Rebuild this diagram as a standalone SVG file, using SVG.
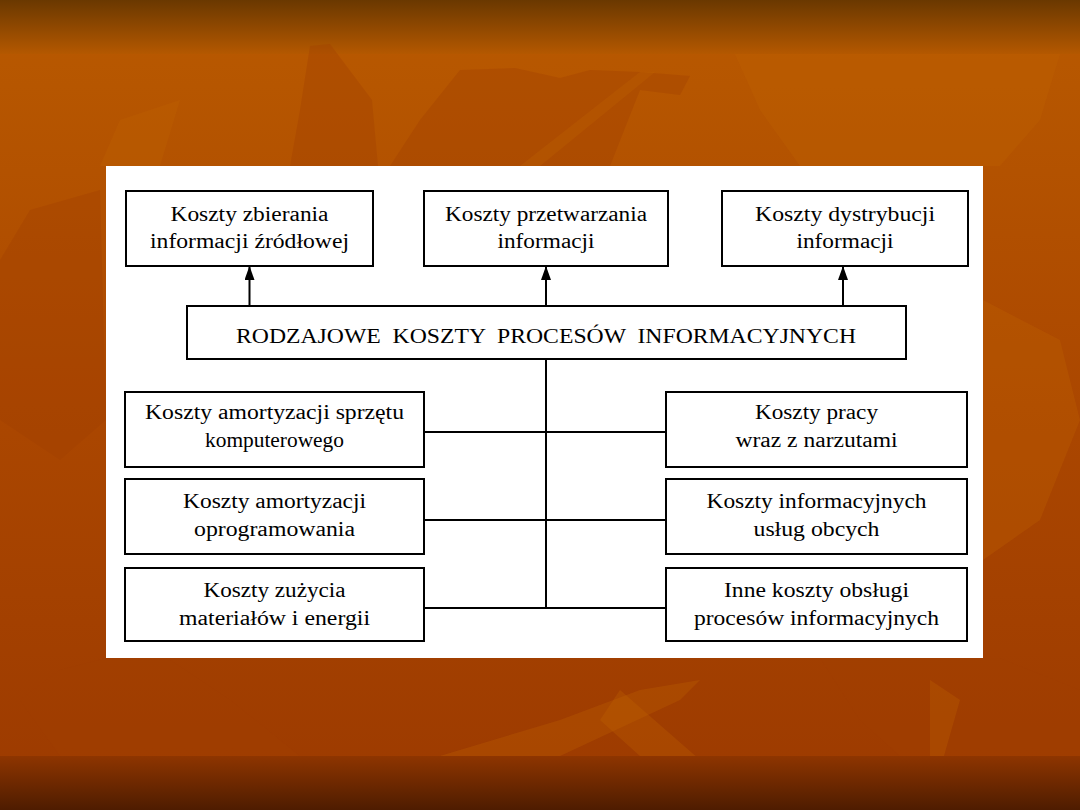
<svg xmlns="http://www.w3.org/2000/svg" width="1080" height="810" viewBox="0 0 1080 810">
<defs>
<linearGradient id="topband" x1="0" y1="0" x2="0" y2="1">
<stop offset="0" stop-color="#6a3800"/>
<stop offset="1" stop-color="#b45800"/>
</linearGradient>
<linearGradient id="mid" x1="0" y1="0" x2="0" y2="1">
<stop offset="0" stop-color="#b95a00"/>
<stop offset="0.5" stop-color="#ab4700"/>
<stop offset="1" stop-color="#9c3a00"/>
</linearGradient>
<linearGradient id="botband" x1="0" y1="0" x2="0" y2="1">
<stop offset="0" stop-color="#8e3500"/>
<stop offset="1" stop-color="#4e1c00"/>
</linearGradient>
<marker id="arr" viewBox="0 0 14 10" refX="13" refY="5" markerWidth="14" markerHeight="10" markerUnits="userSpaceOnUse" orient="auto">
<path d="M0,0 L14,5 L0,10 Z" fill="#000"/>
</marker>
<style>
.box{fill:#fff;stroke:#000;stroke-width:2}
.t{font-family:"Liberation Serif","Times New Roman",serif;font-size:20px;fill:#000;text-anchor:middle}
.c{stroke:#000;stroke-width:2;fill:none}
.leafA{fill:#c06400;opacity:0.3}
.leafB{fill:#a04000;opacity:0.35}
</style>
</defs>

<g id="background">
<rect x="0" y="0" width="1080" height="810" fill="url(#mid)"/>
<rect x="0" y="0" width="1080" height="54" fill="url(#topband)"/>
<polygon class="leafB" points="310,46 330,44 372,100 378,166 290,166 300,110" />
<polygon class="leafB" points="460,70 515,68 560,78 590,70 640,72 690,76 680,95 640,90 610,166 390,166 420,120" />
<polygon class="leafA" points="640,72 655,72 540,166 520,166" />
<polygon class="leafA" points="735,54 1060,54 1040,120 1000,166 800,166 760,110" />
<polygon class="leafA" points="120,120 180,100 160,166 100,166" />
<polygon class="leafB" points="30,210 100,190 106,420 60,460 0,420 0,260" />
<polygon class="leafA" points="983,300 1060,340 1080,420 1040,520 983,560" />
<polygon class="leafB" points="20,700 60,670 106,658 170,660 230,700 300,756 60,756" />
<polygon class="leafA" points="440,756 560,720 640,690 700,680 680,700 560,756" />
<polygon class="leafA" points="620,690 700,760 640,756 600,720" />
<polygon class="leafB" points="820,658 1000,658 1080,690 1080,756 900,756 860,720" />
<polygon class="leafA" points="930,680 960,700 940,770 930,756" />
<rect x="0" y="756" width="1080" height="54" fill="url(#botband)"/>
<rect x="106" y="166" width="877" height="492" fill="#fff"/>
</g>

<g id="connectors">
<line class="c" x1="249.5" y1="306" x2="249.5" y2="267" marker-end="url(#arr)"/>
<line class="c" x1="546" y1="306" x2="546" y2="267" marker-end="url(#arr)"/>
<line class="c" x1="843" y1="306" x2="843" y2="267" marker-end="url(#arr)"/>
<line class="c" x1="546" y1="359" x2="546" y2="609"/>
<line class="c" x1="424" y1="432" x2="666" y2="432"/>
<line class="c" x1="424" y1="520" x2="666" y2="520"/>
<line class="c" x1="424" y1="608" x2="666" y2="608"/>
</g>

<g id="n-zbierania">
<rect class="box" x="126" y="191" width="247" height="75"/>
<text class="t" x="249.5" y="221" textLength="158" lengthAdjust="spacingAndGlyphs">Koszty zbierania</text>
<text class="t" x="249.5" y="248" textLength="199" lengthAdjust="spacingAndGlyphs">informacji źródłowej</text>
</g>
<g id="n-przetwarzania">
<rect class="box" x="424" y="191" width="244" height="75"/>
<text class="t" x="546" y="221" textLength="202" lengthAdjust="spacingAndGlyphs">Koszty przetwarzania</text>
<text class="t" x="546" y="248" textLength="97" lengthAdjust="spacingAndGlyphs">informacji</text>
</g>
<g id="n-dystrybucji">
<rect class="box" x="722" y="191" width="246" height="75"/>
<text class="t" x="845" y="221" textLength="180" lengthAdjust="spacingAndGlyphs">Koszty dystrybucji</text>
<text class="t" x="845" y="248" textLength="97" lengthAdjust="spacingAndGlyphs">informacji</text>
</g>
<g id="n-main">
<rect class="box" x="187" y="306" width="719" height="53"/>
<text class="t" x="546" y="343" textLength="620" lengthAdjust="spacingAndGlyphs" xml:space="preserve">RODZAJOWE  KOSZTY  PROCESÓW  INFORMACYJNYCH</text>
</g>
<g id="n-sprzet">
<rect class="box" x="125" y="392" width="299" height="75"/>
<text class="t" x="274.5" y="419" textLength="259" lengthAdjust="spacingAndGlyphs">Koszty amortyzacji sprzętu</text>
<text class="t" x="274.5" y="447" textLength="139" lengthAdjust="spacingAndGlyphs">komputerowego</text>
</g>
<g id="n-oprogramowanie">
<rect class="box" x="125" y="479" width="299" height="75"/>
<text class="t" x="274.5" y="508" textLength="183" lengthAdjust="spacingAndGlyphs">Koszty amortyzacji</text>
<text class="t" x="274.5" y="536" textLength="161" lengthAdjust="spacingAndGlyphs">oprogramowania</text>
</g>
<g id="n-materialy">
<rect class="box" x="125" y="568" width="299" height="73"/>
<text class="t" x="274.5" y="597" textLength="142" lengthAdjust="spacingAndGlyphs">Koszty zużycia</text>
<text class="t" x="274.5" y="625" textLength="191" lengthAdjust="spacingAndGlyphs">materiałów i energii</text>
</g>
<g id="n-praca">
<rect class="box" x="666" y="392" width="301" height="75"/>
<text class="t" x="816.5" y="419" textLength="123" lengthAdjust="spacingAndGlyphs">Koszty pracy</text>
<text class="t" x="816.5" y="447" textLength="162" lengthAdjust="spacingAndGlyphs">wraz z narzutami</text>
</g>
<g id="n-uslugi">
<rect class="box" x="666" y="479" width="301" height="75"/>
<text class="t" x="816.5" y="508" textLength="220" lengthAdjust="spacingAndGlyphs">Koszty informacyjnych</text>
<text class="t" x="816.5" y="536" textLength="126" lengthAdjust="spacingAndGlyphs">usług obcych</text>
</g>
<g id="n-inne">
<rect class="box" x="666" y="568" width="301" height="73"/>
<text class="t" x="816.5" y="597" textLength="185" lengthAdjust="spacingAndGlyphs">Inne koszty obsługi</text>
<text class="t" x="816.5" y="625" textLength="245" lengthAdjust="spacingAndGlyphs">procesów informacyjnych</text>
</g>
</svg>
